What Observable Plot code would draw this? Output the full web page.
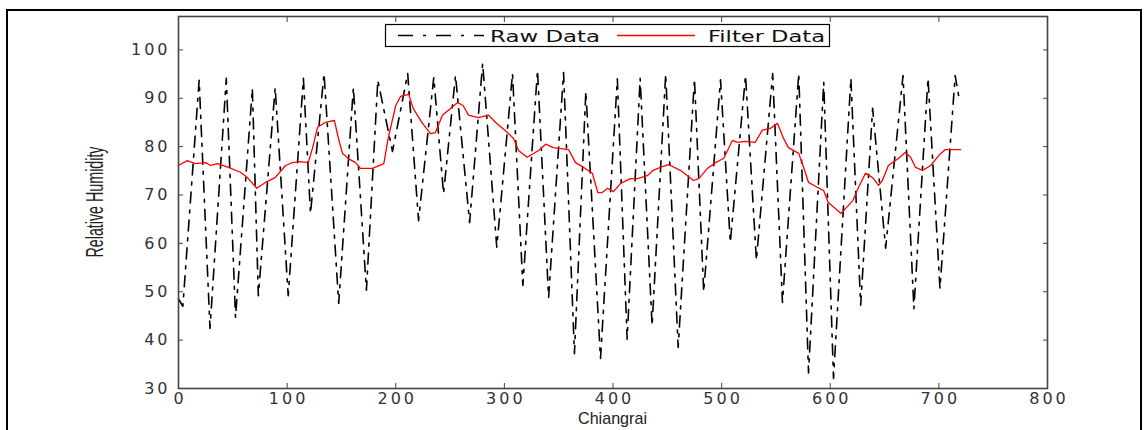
<!DOCTYPE html>
<html><head><meta charset="utf-8">
<script src="https://cdn.jsdelivr.net/npm/d3@7"></script>
<script src="https://cdn.jsdelivr.net/npm/@observablehq/plot@0.6"></script>
<style>
body{margin:0;background:#fff;}
#wrap{position:relative;width:1144px;height:430px;overflow:hidden;}
#chart{position:absolute;left:0;top:0;}
#border{position:absolute;left:6px;top:9px;width:1132px;height:500px;border:2px solid #000;pointer-events:none;}
</style></head><body>
<div id="wrap"><div id="chart"></div><div id="border"></div></div>
<script>
// Raw data (peaks and troughs)
const rawX = [0, 4, 19, 29, 44, 52.5, 68, 73.5, 89, 101, 115, 121.5, 134, 147.5, 161, 173, 183.5, 197, 211, 221, 235, 244, 255, 268, 280, 293, 307.5, 317, 330.5, 340.7, 354.5, 364.5, 375, 388.5, 404, 413, 425, 436, 448.5, 460, 475, 483.5, 499, 508, 522, 532, 547, 556, 571, 580, 594, 603, 619, 628, 639, 651, 667, 677, 690, 701, 715, 719];
const rawY = [48.5, 47, 93.7, 42.4, 94.1, 44.7, 92, 49.2, 92.2, 49.2, 94.1, 66.2, 95.1, 47.6, 92.2, 50.3, 93.7, 79, 95.1, 64.7, 94.3, 70.3, 94.7, 64.3, 97.2, 59.2, 95.1, 51.3, 95.8, 48.8, 95.3, 37.2, 91.4, 36.2, 94, 40.2, 94.1, 43, 95, 38.5, 94, 50, 93.8, 60.2, 94.7, 56.5, 95.1, 47.8, 95.1, 33.2, 93.3, 32.1, 94.1, 47.2, 87.9, 59, 94.7, 46.5, 94.1, 50.7, 94.7, 89.5];
// Filtered data
const filtX = [0, 8, 15.5, 25, 29.5, 36, 46, 57, 63.5, 72, 80, 89, 98.5, 105, 112, 119.5, 123.5, 128, 135, 143.5, 148, 151, 158, 163, 167.5, 178.5, 189, 193, 200, 204.5, 212, 216, 224, 232, 236.5, 243, 257, 262, 267, 276, 285.5, 292, 301, 308.5, 313, 321, 331.5, 338, 345, 359, 365.5, 373, 381, 386, 390, 395, 400.5, 407, 416, 422.5, 431.5, 437, 443.5, 451, 462, 474, 479, 487, 494.5, 502, 510, 514.5, 522, 531, 537.5, 545, 551.5, 557, 561.5, 571, 575.5, 580, 588, 594, 598, 610, 621, 626, 632.5, 639, 644.5, 648, 653.5, 663, 669, 674, 678.5, 685, 692.5, 700, 706, 720];
const filtY = [76.1, 77.1, 76.5, 76.7, 76.1, 76.5, 75.7, 74.7, 73.6, 71.4, 72.6, 73.6, 76.1, 76.7, 76.9, 76.7, 79.8, 84, 85, 85.4, 81, 78.6, 77.3, 76.7, 75.5, 75.5, 76.5, 81.7, 88.5, 90.4, 90.8, 87.9, 85, 82.7, 82.9, 86.5, 89.1, 88.5, 86.5, 86, 86.5, 85, 83.3, 81.7, 79.2, 77.8, 79.2, 80.5, 79.8, 79.4, 76.7, 75.7, 74.5, 70.5, 70.5, 71.4, 70.7, 72.4, 73.4, 73.4, 74, 75.1, 75.7, 76.3, 75.1, 73, 73.4, 75.5, 76.7, 77.6, 81.3, 80.9, 81.1, 80.9, 83.4, 83.8, 84.8, 81.7, 79.8, 78.6, 75.7, 72.6, 71.6, 70.9, 68.5, 66.2, 68.9, 71.6, 74.5, 73.6, 72, 73, 76.1, 77.6, 78.8, 77.8, 75.7, 75.1, 76.1, 78.2, 79.4, 79.4];
const xTicks = [0, 100, 200, 300, 400, 500, 600, 700, 800];
const yTicks = [30, 40, 50, 60, 70, 80, 90, 100];
const seriesNames = ["Raw Data", "Filter Data"];
const xLabel = "Chiangrai";
const yLabel = "Relative Humidity";

const raw = rawX.map((x, i) => ({x, y: rawY[i]}));
const filt = filtX.map((x, i) => ({x, y: filtY[i]}));
const dash = "11,7,3,7";

const plot = Plot.plot({
  width: 1144, height: 430,
  marginLeft: 178, marginRight: 97, marginTop: 16, marginBottom: 42,
  style: {fontFamily: "DejaVu Sans", fontSize: "16px", color: "#333", background: "transparent", overflow: "visible"},
  x: {domain: [0, 800]},
  y: {domain: [30, 106.9]},
  marks: [
    Plot.line(raw, {x: "x", y: "y", stroke: "#000", strokeWidth: 1.6, strokeDasharray: dash}),
    Plot.line(filt, {x: "x", y: "y", stroke: "#ff0000", strokeWidth: 1.3}),
    Plot.frame({stroke: "#444", strokeWidth: 1.6}),
    Plot.axisX(xTicks, {anchor: "bottom", tickSize: -5, tickPadding: 9, label: null, stroke: "#444", fontSize: 16}),
    Plot.axisX(xTicks, {anchor: "top", tickSize: -5, tickFormat: () => "", label: null, stroke: "#444"}),
    Plot.axisY(yTicks, {anchor: "left", tickSize: -5, tickPadding: 16, label: null, stroke: "#444", fontSize: 16}),
    Plot.axisY(yTicks, {anchor: "right", tickSize: -5, tickFormat: () => "", label: null, stroke: "#444"})
  ]
});
document.getElementById("chart").appendChild(plot);

const svg = d3.select(plot);
// wide tick-label lettering like the original
svg.selectAll('g[aria-label="x-axis tick label"] text').style("letter-spacing", "3px").attr("dx", 1.5);
svg.selectAll('g[aria-label="y-axis tick label"] text').style("letter-spacing", "3px").attr("dx", 3);

// axis titles
svg.append("text").text(yLabel)
  .attr("transform", "translate(103,202) rotate(-90)")
  .attr("text-anchor", "middle")
  .attr("font-family", "Liberation Sans").attr("font-size", 23).attr("fill", "#222")
  .attr("textLength", 111).attr("lengthAdjust", "spacingAndGlyphs");
svg.append("text").text(xLabel)
  .attr("x", 612.5).attr("y", 424)
  .attr("text-anchor", "middle")
  .attr("font-family", "Liberation Sans").attr("font-size", 17).attr("fill", "#222")
  .attr("textLength", 69).attr("lengthAdjust", "spacingAndGlyphs");

// legend
const lg = svg.append("g").attr("text-anchor", "start");
lg.append("rect").attr("x", 385.5).attr("y", 24.5).attr("width", 444).attr("height", 22)
  .attr("fill", "#fff").attr("stroke", "#000").attr("stroke-width", 1.2);
lg.append("line").attr("x1", 398).attr("x2", 484).attr("y1", 35.5).attr("y2", 35.5)
  .attr("stroke", "#000").attr("stroke-width", 1.4).attr("stroke-dasharray", "15,10,3,10");
lg.append("line").attr("x1", 617).attr("x2", 695).attr("y1", 35.5).attr("y2", 35.5)
  .attr("stroke", "#ff0000").attr("stroke-width", 1.3);
lg.append("text").text(seriesNames[0]).attr("x", 490).attr("y", 41.5)
  .attr("text-anchor", "start")
  .attr("font-family", "DejaVu Sans").attr("font-size", 15).attr("fill", "#111")
  .attr("textLength", 110).attr("lengthAdjust", "spacingAndGlyphs");
lg.append("text").text(seriesNames[1]).attr("x", 708).attr("y", 41.5)
  .attr("text-anchor", "start")
  .attr("font-family", "DejaVu Sans").attr("font-size", 15).attr("fill", "#111")
  .attr("textLength", 117).attr("lengthAdjust", "spacingAndGlyphs");
</script>
</body></html>
